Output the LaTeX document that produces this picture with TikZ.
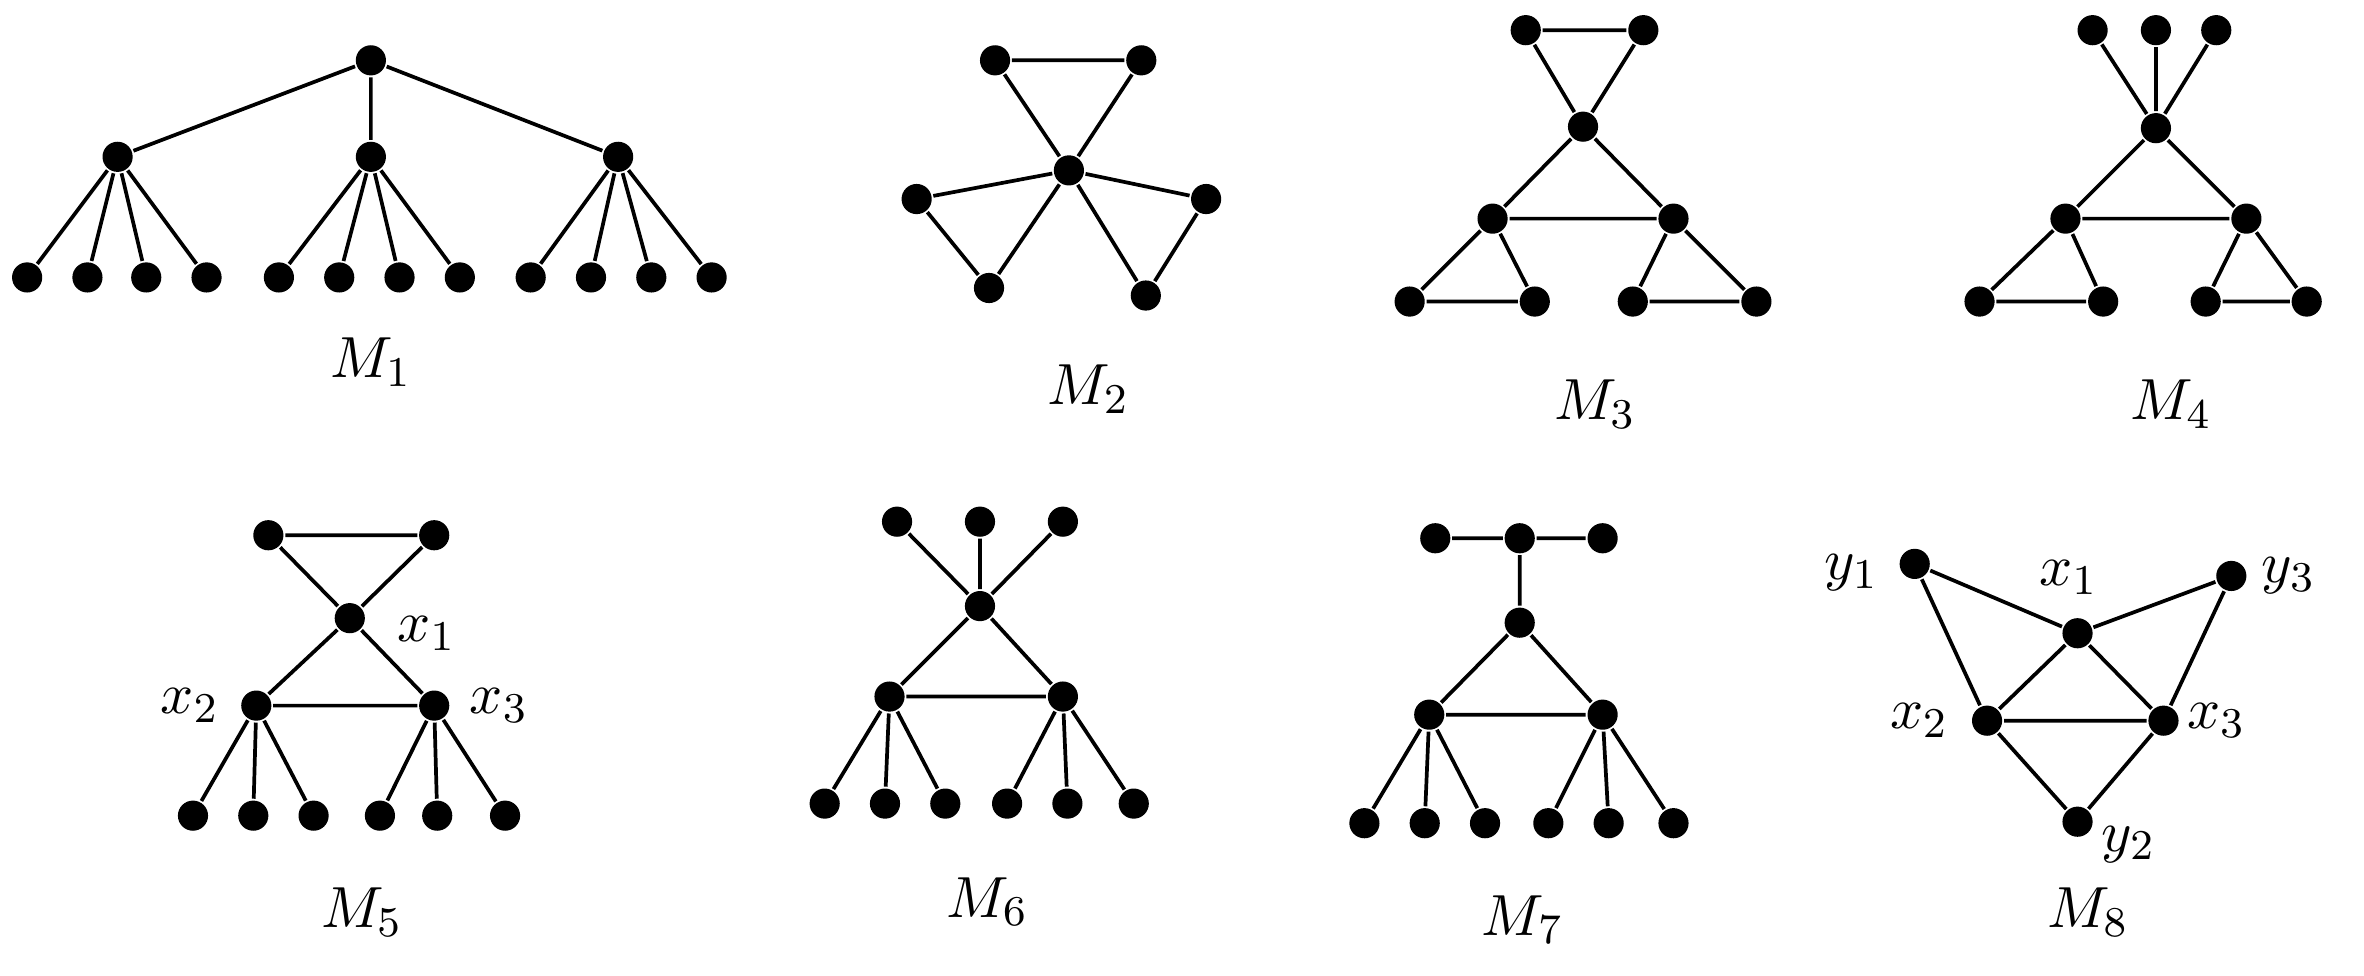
\documentclass[tikz,border=0pt]{standalone}
\begin{document}
\begin{tikzpicture}[x=0.01cm,y=-0.01cm,
 v/.style={circle,fill=black,inner sep=0pt,minimum size=0.2cm},
 lab/.style={font=\fontsize{11}{13}\selectfont},
 every path/.style={line width=0.7pt}]
\useasboundingbox (0,0) rectangle (1568,647);
% M1
\node[v] (a0) at (246,40) {};
\foreach \i/\x in {1/78,2/246,3/410} \node[v] (a\i) at (\x,104) {};
\foreach \j/\x/\p in {1/18/1,2/58/1,3/97/1,4/137/1,5/185/2,6/225/2,7/265/2,8/305/2,9/352/3,10/392/3,11/432/3,12/472/3}
 {\node[v] (l\j) at (\x,184) {}; \draw (a\p)--(l\j);}
\draw (a0)--(a1) (a0)--(a2) (a0)--(a3);
\node[lab] (m1) at (246,240) {$M_1$};
% M2
\node[v] (bc) at (709,113) {};
\node[v] (b1) at (660,40) {}; \node[v] (b2) at (757,40) {};
\node[v] (b3) at (608,132) {}; \node[v] (b4) at (656,191) {};
\node[v] (b5) at (800,132) {}; \node[v] (b6) at (760,196) {};
\draw (b1)--(b2)--(bc)--(b1) (b3)--(b4)--(bc)--(b3) (b5)--(b6)--(bc)--(b5);
\node[lab] (m2) at (722,258) {$M_2$};
% M3
\node[v] (c1) at (1012,20) {}; \node[v] (c2) at (1090,20) {};
\node[v] (cc) at (1050,84) {};
\node[v] (cl) at (990,145) {}; \node[v] (cr) at (1110,145) {};
\node[v] (c3) at (935,200) {}; \node[v] (c4) at (1018,200) {};
\node[v] (c5) at (1083,200) {}; \node[v] (c6) at (1165,200) {};
\draw (c1)--(c2)--(cc)--(c1) (cc)--(cl)--(cr)--(cc) (cl)--(c3)--(c4)--(cl) (cr)--(c5)--(c6)--(cr);
\node[lab] (m3) at (1058,268) {$M_3$};
% M4
\node[v] (d1) at (1388,20) {}; \node[v] (d2) at (1430,20) {}; \node[v] (d7) at (1470,20) {};
\node[v] (dc) at (1430,85) {};
\node[v] (dl) at (1370,145) {}; \node[v] (dr) at (1490,145) {};
\node[v] (d3) at (1313,200) {}; \node[v] (d4) at (1395,200) {};
\node[v] (d5) at (1463,200) {}; \node[v] (d6) at (1530,200) {};
\draw (d1)--(dc) (d2)--(dc) (d7)--(dc) (dc)--(dl)--(dr)--(dc) (dl)--(d3)--(d4)--(dl) (dr)--(d5)--(d6)--(dr);
\node[lab] (m4) at (1440,268) {$M_4$};
% M5
\node[v] (e1) at (178,355) {}; \node[v] (e2) at (288,355) {};
\node[v] (ex1) at (232,410) {};
\node[v] (ex2) at (170,468) {}; \node[v] (ex3) at (288,468) {};
\draw (e1)--(e2)--(ex1)--(e1) (ex1)--(ex2)--(ex3)--(ex1);
\foreach \j/\x/\p in {1/128/ex2,2/168/ex2,3/208/ex2,4/252/ex3,5/290/ex3,6/335/ex3}
 {\node[v] (el\j) at (\x,541) {}; \draw (\p)--(el\j);}
\node[lab] (lx1) at (283,420) {$x_1$};
\node[lab] (lx2) at (126,468) {$x_2$};
\node[lab] (lx3) at (331,468) {$x_3$};
\node[lab] (m5) at (240,605) {$M_5$};
% M6
\node[v] (f1) at (595,346) {}; \node[v] (f2) at (650,346) {}; \node[v] (f3) at (705,346) {};
\node[v] (fc) at (650,402) {};
\node[v] (fl) at (590,462) {}; \node[v] (fr) at (705,462) {};
\draw (f1)--(fc) (f2)--(fc) (f3)--(fc) (fc)--(fl)--(fr)--(fc);
\foreach \j/\x/\p in {1/547/fl,2/587/fl,3/627/fl,4/668/fr,5/708/fr,6/752/fr}
 {\node[v] (fl\j) at (\x,533) {}; \draw (\p)--(fl\j);}
\node[lab] (m6) at (655,598) {$M_6$};
% M7
\node[v] (g1) at (952,357) {}; \node[v] (g2) at (1008,357) {}; \node[v] (g3) at (1063,357) {};
\node[v] (gc) at (1008,413) {};
\node[v] (gl) at (948,474) {}; \node[v] (gr) at (1063,474) {};
\draw (g1)--(g2)--(g3) (g2)--(gc) (gc)--(gl)--(gr)--(gc);
\foreach \j/\x/\p in {1/905/gl,2/945/gl,3/985/gl,4/1027/gr,5/1067/gr,6/1110/gr}
 {\node[v] (gl\j) at (\x,546) {}; \draw (\p)--(gl\j);}
\node[lab] (m7) at (1010,610) {$M_7$};
% M8
\node[v] (y1) at (1270,374) {}; \node[v] (y3) at (1480,382) {};
\node[v] (x1) at (1378,420) {};
\node[v] (x2) at (1318,478) {}; \node[v] (x3) at (1435,478) {};
\node[v] (y2) at (1378,545) {};
\draw (y1)--(x1)--(y3) (y1)--(x2) (y3)--(x3) (x1)--(x2)--(x3)--(x1) (x2)--(y2)--(x3);
\node[lab] (ly1) at (1228,380) {$y_1$};
\node[lab] (ly3) at (1518,382) {$y_3$};
\node[lab] (lxx1) at (1372,383) {$x_1$};
\node[lab] (lxx2) at (1273,478) {$x_2$};
\node[lab] (lxx3) at (1470,478) {$x_3$};
\node[lab] (ly2) at (1412,560) {$y_2$};
\node[lab] (m8) at (1385,605) {$M_8$};
\end{tikzpicture}
\end{document}
